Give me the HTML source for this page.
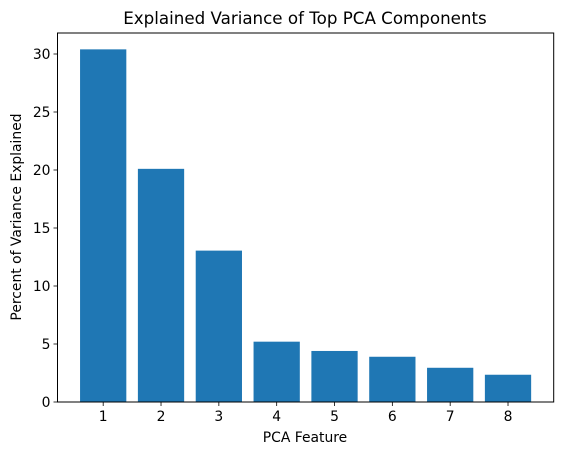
<!DOCTYPE html>
<html><head><meta charset="utf-8"><style>body{margin:0;background:#fff}svg{display:block;font-family:"DejaVu Sans","Liberation Sans",sans-serif}</style></head>
<body>
<svg id="chart" width="562" height="455">
<text x="305" y="24" text-anchor="middle" font-size="16.7">Explained Variance of Top PCA Components</text>
<g id="bars"></g>
<g id="axes"></g>
<text x="305" y="442" text-anchor="middle" font-size="13.9">PCA Feature</text>
<text transform="translate(21,217) rotate(-90)" text-anchor="middle" font-size="13.9">Percent of Variance Explained</text>
</svg>
<script>
const categories = [1,2,3,4,5,6,7,8];
const values = [30.4, 20.1, 13.05, 5.2, 4.4, 3.9, 2.95, 2.35];
const yTicks = [0,5,10,15,20,25,30];
const L=57.5,R=553.7,T=33,B=402;
const xMin=0.21,xMax=8.79;
const X=v=>L+(v-xMin)/(xMax-xMin)*(R-L);
const Y=v=>B-v*(B-54)/30;
const ns="http://www.w3.org/2000/svg";
const bars=document.getElementById('bars'),axes=document.getElementById('axes');
function mk(tag,attrs,parent,text){const e=document.createElementNS(ns,tag);for(const k in attrs)e.setAttribute(k,attrs[k]);if(text!==undefined)e.textContent=text;parent.appendChild(e);return e;}
categories.forEach((c,i)=>{
  const w=X(c+0.4)-X(c-0.4);
  const r=mk('rect',{x:X(c-0.4),y:Y(values[i]),width:w,height:Y(0)-Y(values[i]),fill:'#1f77b4'},bars);
  
  
  mk('line',{x1:X(c),x2:X(c),y1:B,y2:B+4,stroke:'#000','stroke-width':0.8},axes);
  const t=mk('text',{x:X(c),y:B+19,'text-anchor':'middle','font-size':13.9},axes,String(c));
  
  
});
yTicks.forEach(v=>{
  mk('line',{x1:L-4,x2:L,y1:Y(v),y2:Y(v),stroke:'#000','stroke-width':0.8},axes);
  const t=mk('text',{x:L-7,y:Y(v)+5,'text-anchor':'end','font-size':13.9},axes,String(v));
  
  
});
const f=mk('rect',{x:L,y:T,width:R-L,height:B-T,fill:'none',stroke:'#000','stroke-width':1},axes);


</script>
</body></html>
